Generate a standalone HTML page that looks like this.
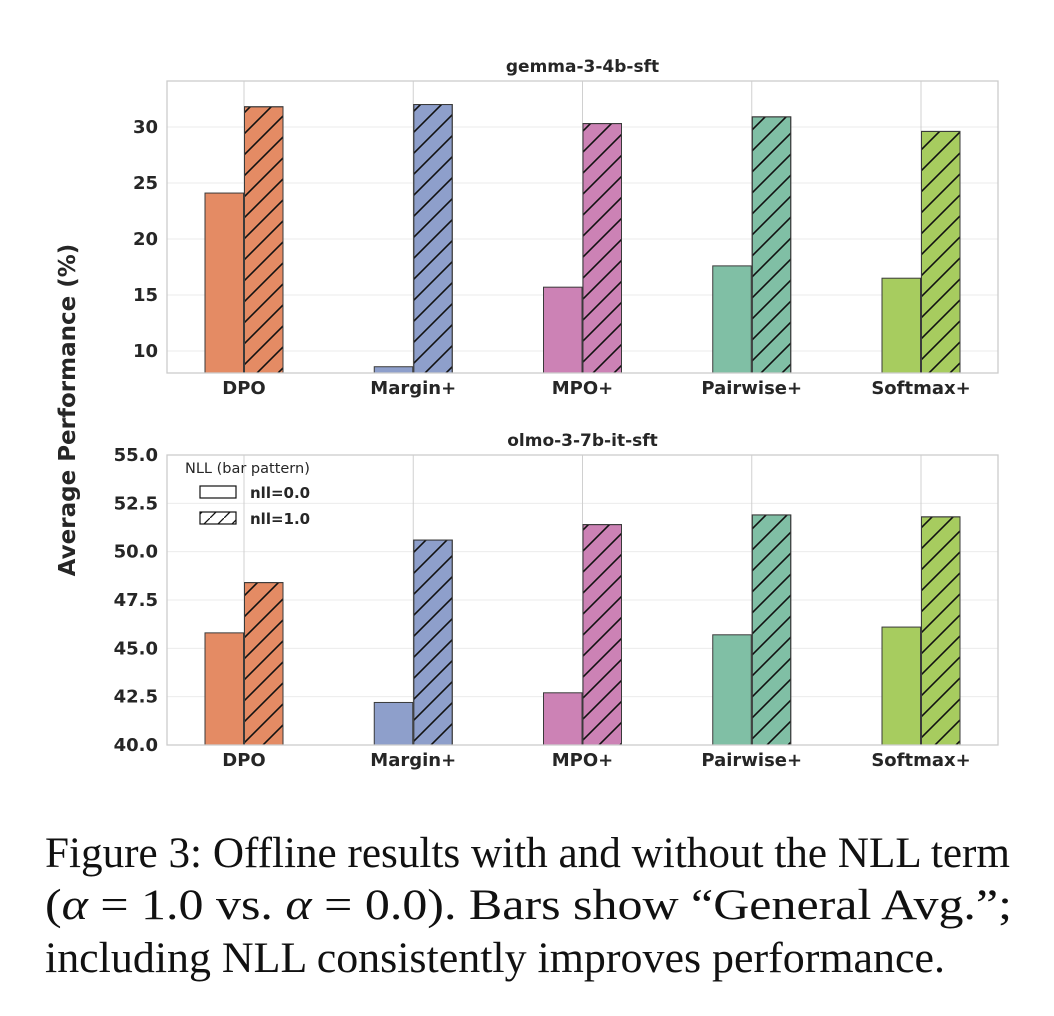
<!DOCTYPE html>
<html><head><meta charset="utf-8"><style>
html,body{margin:0;padding:0;background:#fff;}
svg{display:block;}
</style></head><body>
<svg id="fig" width="1054" height="1016" viewBox="0 0 1054 1016" xmlns="http://www.w3.org/2000/svg" font-family="'DejaVu Sans','Liberation Sans',sans-serif">
<defs>
<pattern id="hatch" patternUnits="userSpaceOnUse" width="21" height="21">
<path d="M-2,23 L23,-2 M-12,12 L12,-12 M9,33 L33,9" stroke="#111" stroke-width="1.6"/>
</pattern>
<pattern id="hatchL" patternUnits="userSpaceOnUse" width="14" height="14">
<path d="M-2,16 L16,-2" stroke="#111" stroke-width="1.3"/>
</pattern>
</defs>
<g id="charts"></g>
<text x="0" y="0" transform="translate(75,410) rotate(-90)" text-anchor="middle" font-weight="bold" font-size="23" fill="#262626">Average Performance (%)</text>
<g>
<text x="185" y="473" font-size="14.5" fill="#262626">NLL (bar pattern)</text>
<rect x="200" y="486" width="36" height="12" fill="#fff" stroke="#111" stroke-width="1.2"/>
<text x="250" y="498" font-size="15" font-weight="bold" fill="#262626">nll=0.0</text>
<rect x="200" y="512" width="36" height="12" fill="url(#hatchL)" stroke="#111" stroke-width="1.2"/>
<text x="250" y="524" font-size="15" font-weight="bold" fill="#262626">nll=1.0</text>
</g>
<g font-family="'Liberation Serif',serif" font-size="43" fill="#111">
<text x="45" y="867" textLength="965" lengthAdjust="spacingAndGlyphs">Figure 3: Offline results with and without the NLL term</text>
<text x="45" y="919" textLength="967" lengthAdjust="spacingAndGlyphs">(<tspan font-style="italic">α</tspan> = 1.0 vs. <tspan font-style="italic">α</tspan> = 0.0).  Bars show “General Avg.”;</text>
<text x="45" y="972" textLength="900" lengthAdjust="spacingAndGlyphs">including NLL consistently improves performance.</text>
</g>
</svg>
<script>
const categories = ["DPO","Margin+","MPO+","Pairwise+","Softmax+"];
const colors = ["#e48b64","#8e9fcb","#cc82b5","#80bfa5","#a7cc5f"];
const gemmaNll0 = [24.1, 8.6, 15.7, 17.6, 16.5];
const gemmaNll1 = [31.8, 32.0, 30.3, 30.9, 29.6];
const gemmaTicks = [10, 15, 20, 25, 30];
const olmoNll0 = [45.8, 42.2, 42.7, 45.7, 46.1];
const olmoNll1 = [48.4, 50.6, 51.4, 51.9, 51.8];
const olmoTicks = [40.0, 42.5, 45.0, 47.5, 50.0, 52.5, 55.0];

const NS = "http://www.w3.org/2000/svg";
const root = document.getElementById('charts');
function mk(tag, attrs, parent){ const e=document.createElementNS(NS,tag); for(const k in attrs) e.setAttribute(k,attrs[k]); parent.appendChild(e); return e; }

function panel(cfg){
  const g = mk('g',{},root);
  
  
  const L=167, R=998, T=cfg.top, B=cfg.bottom;
  const y = v => B - (v - cfg.ymin) / (cfg.ymax - cfg.ymin) * (B - T);
  const step = (R - L - 154) / (categories.length - 1);
  const x = i => L + 77 + i * step;
  const bg = mk('rect',{x:L,y:T,width:R-L,height:B-T,fill:'#fff'},g);
  
  
  cfg.ticks.forEach(t=>{
    const ln = mk('line',{x1:L,x2:R,y1:y(t),y2:y(t),stroke:'#ebebeb','stroke-width':1},g);
    
    
    const tx = mk('text',{x:L-9,y:y(t)+6,'text-anchor':'end','font-size':18,'font-weight':'bold',fill:'#262626'},g);
    
    
    tx.textContent = cfg.fmt(t);
  });
  categories.forEach((c,i)=>{
    const ln = mk('line',{x1:x(i),x2:x(i),y1:T,y2:B,stroke:'#d0d0d0','stroke-width':1},g);
    
    
  });
  categories.forEach((c,i)=>{
    const w=38.5;
    const b0 = mk('rect',{x:x(i)-w-0.5,y:y(cfg.s0[i]),width:w,height:B-y(cfg.s0[i]),fill:colors[i],stroke:'#3a3a3a','stroke-width':1},g);
    
    
    const b1 = mk('rect',{x:x(i)+0.5,y:y(cfg.s1[i]),width:w,height:B-y(cfg.s1[i]),fill:colors[i],stroke:'#3a3a3a','stroke-width':1},g);
    
    
    const h = mk('rect',{x:x(i)+0.5,y:y(cfg.s1[i]),width:w,height:B-y(cfg.s1[i]),fill:'url(#hatch)',stroke:'#3a3a3a','stroke-width':1},g);
    
    
    const tx = mk('text',{x:x(i),y:B+21,'text-anchor':'middle','font-size':18,'font-weight':'bold',fill:'#262626'},g);
    
    
    tx.textContent = c;
  });
  const fr = mk('rect',{x:L,y:T,width:R-L,height:B-T,fill:'none',stroke:'#cccccc','stroke-width':1.3},g);
  
  
  const tt = mk('text',{x:(L+R)/2,y:T-9,'text-anchor':'middle','font-size':17,'font-weight':'bold',fill:'#262626'},g);
  
  
  tt.textContent = cfg.title;
}
panel({name:'gemma-panel',title:'gemma-3-4b-sft',top:81,bottom:373,ymin:8.04,ymax:34.1,ticks:gemmaTicks,s0:gemmaNll0,s1:gemmaNll1,fmt:t=>String(t)});
panel({name:'olmo-panel',title:'olmo-3-7b-it-sft',top:455,bottom:745,ymin:40,ymax:55,ticks:olmoTicks,s0:olmoNll0,s1:olmoNll1,fmt:t=>t.toFixed(1)});
</script>
</body></html>
